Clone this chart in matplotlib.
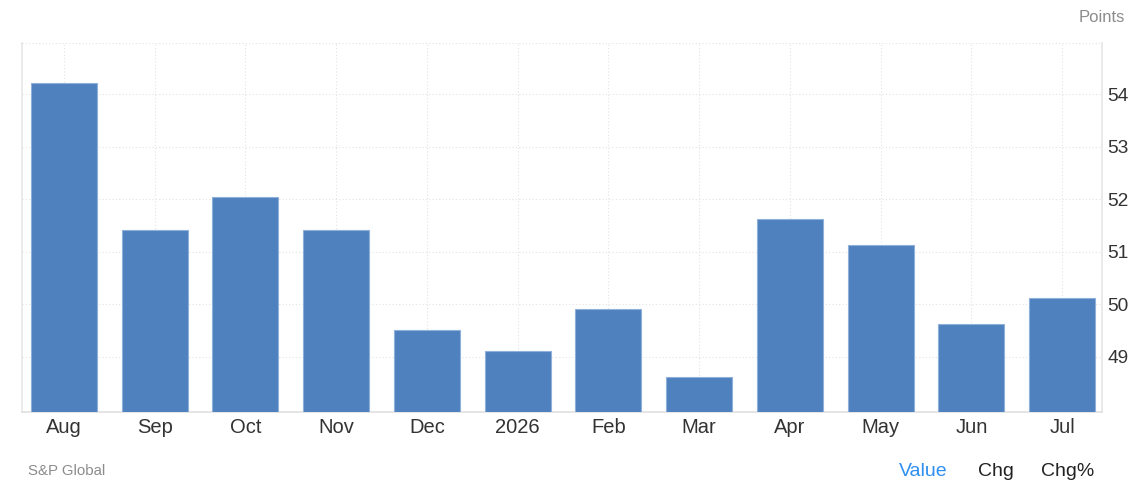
import matplotlib
matplotlib.use("Agg")
import matplotlib.pyplot as plt

# PMI-style monthly values (points)
months = ["Aug", "Sep", "Oct", "Nov", "Dec", "2026", "Feb", "Mar", "Apr", "May", "Jun", "Jul"]
values = [54.21, 51.42, 52.04, 51.42, 49.52, 49.12, 49.92, 48.62, 51.63, 51.12, 49.63, 50.13]
yticks = [49, 50, 51, 52, 53, 54]

plt.rcParams["font.family"] = ["Liberation Sans", "DejaVu Sans"]

fig = plt.figure(figsize=(11.35, 4.87), dpi=100)
ax = fig.add_axes([22 / 1135, 75 / 487, 1080 / 1135, 369 / 487])

x = list(range(len(months)))
ax.bar(x, values, width=0.727, color="#4e81bd", edgecolor="#8fb0da", linewidth=0.8, zorder=3)

ax.set_xlim(-0.463, 11.44)
ax.set_ylim(47.954, 54.97)
ax.set_xticks(x)
ax.set_xticklabels(months)
ax.set_yticks(yticks)

ax.yaxis.tick_right()
ax.tick_params(axis="both", length=0, colors="#333333")
ax.tick_params(axis="x", pad=4, labelsize=14.5)
ax.tick_params(axis="y", pad=4, labelsize=13.8)

ax.grid(True, color="#e3e3e3", linestyle=(0, (1, 2)), linewidth=0.8, zorder=0)
ax.axhline(54.97, color="#e3e3e3", linestyle=(0, (1, 2)), linewidth=0.8, zorder=0)

ax.spines["top"].set_visible(False)
ax.spines["left"].set_color("#e6e6e6")
ax.spines["right"].set_color("#e6e6e6")
ax.spines["bottom"].set_color("#e0e0e0")
for s in ["left", "right", "bottom"]:
    ax.spines[s].set_linewidth(1.2)

fig.text(1125 / 1135, 1 - 18 / 487, "Points", ha="right", va="center", fontsize=12, color="#8c8c8c")
fig.text(28 / 1135, 1 - 471 / 487, "S&P Global", ha="left", va="center", fontsize=10.8, color="#8c8c8c")
fig.text(923 / 1135, 1 - 471 / 487, "Value", ha="center", va="center", fontsize=14, color="#2f8ff0")
fig.text(996 / 1135, 1 - 471 / 487, "Chg", ha="center", va="center", fontsize=14, color="#222222")
fig.text(1068 / 1135, 1 - 471 / 487, "Chg%", ha="center", va="center", fontsize=14, color="#222222")

fig.savefig("out.png", dpi=100)
